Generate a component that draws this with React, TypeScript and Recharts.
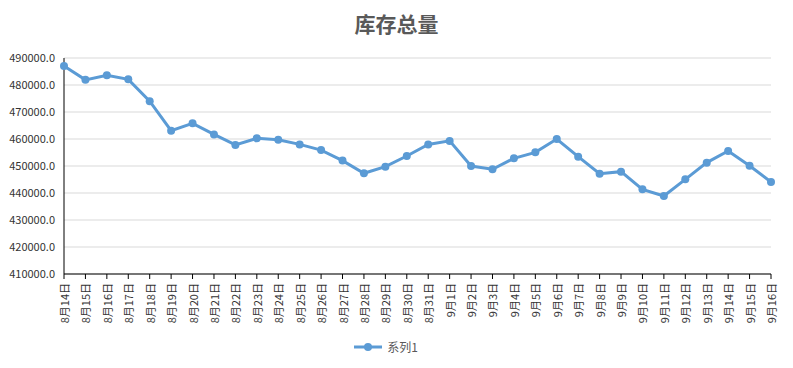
import { CartesianGrid, Legend, Line, LineChart, XAxis, YAxis } from 'recharts'

const dates = [
  '8月14日', '8月15日', '8月16日', '8月17日', '8月18日', '8月19日', '8月20日', '8月21日', '8月22日',
  '8月23日', '8月24日', '8月25日', '8月26日', '8月27日', '8月28日', '8月29日', '8月30日', '8月31日',
  '9月1日', '9月2日', '9月3日', '9月4日', '9月5日', '9月6日', '9月7日', '9月8日', '9月9日',
  '9月10日', '9月11日', '9月12日', '9月13日', '9月14日', '9月15日', '9月16日',
]
const inventory = [
  487000, 481900, 483600, 482100, 474000, 463100, 465800, 461700, 457800,
  460250, 459750, 458000, 455900, 452000, 447300, 449750, 453700, 458000,
  459300, 450000, 448800, 452850, 455050, 460000, 453450, 447150, 447900,
  441350, 438900, 445050, 451250, 455550, 450100, 444100,
]
const yTicks = [410000, 420000, 430000, 440000, 450000, 460000, 470000, 480000, 490000]

const data = dates.map((d, i) => ({ date: d, value: inventory[i] }))

const font = '"Noto Sans CJK SC", "Microsoft YaHei", sans-serif'
const blue = '#5b9bd5'

function DateTick({ x, y, payload }: any) {
  return (
    <text
      x={x}
      y={y}
      transform={`rotate(-90, ${x}, ${y})`}
      textAnchor="end"
      dominantBaseline="central"
      fontSize={11}
      fontFamily={font}
      fill="#333"
    >
      {payload.value}
    </text>
  )
}

function SeriesLegend() {
  return (
    <div style={{ display: 'flex', alignItems: 'center', justifyContent: 'center', fontFamily: font, fontSize: 12, color: '#595959' }}>
      <svg width={30} height={10} style={{ marginRight: 4 }}>
        <line x1={1} y1={5} x2={29} y2={5} stroke={blue} strokeWidth={3} />
        <circle cx={15} cy={5} r={4} fill={blue} />
      </svg>
      系列1
    </div>
  )
}

export default function App() {
  return (
    <div style={{ position: 'relative', width: 793, height: 368, margin: -8, background: '#fff' }}>
      <div style={{ position: 'absolute', left: 1, top: 0, width: 788, height: 365, border: '1px solid #d9d9d9' }} />
      <div
        style={{
          position: 'absolute', top: 8, left: 0, width: 793, textAlign: 'center',
          fontFamily: font, fontSize: 21, fontWeight: 'bold', color: '#595959', lineHeight: '30px',
        }}
      >
        库存总量
      </div>
      <LineChart width={793} height={368} data={data} margin={{ top: 58, right: 22, bottom: 0, left: 0 }}>
        <CartesianGrid horizontal vertical={false} stroke="#d9d9d9" />
        <XAxis
          dataKey="date"
          interval={0}
          height={64}
          tick={<DateTick />}
          tickSize={5}
          tickMargin={4}
          axisLine={{ stroke: '#000' }}
          tickLine={{ stroke: '#000' }}
          padding={{ left: 0, right: 0 }}
        />
        <YAxis
          domain={[410000, 490000]}
          ticks={yTicks}
          width={64}
          tickFormatter={(v: number) => v.toFixed(1)}
          tick={{ fontSize: 11, fill: '#333', fontFamily: font }}
          tickLine={false}
          tickMargin={3}
          axisLine={{ stroke: '#000' }}
          allowDataOverflow
        />
        <Legend verticalAlign="bottom" height={30} content={<SeriesLegend />} />
        <Line
          type="linear"
          dataKey="value"
          name="系列1"
          stroke={blue}
          strokeWidth={3}
          dot={{ r: 4, fill: blue, stroke: blue, strokeWidth: 0 }}
          isAnimationActive={false}
        />
      </LineChart>
    </div>
  )
}
